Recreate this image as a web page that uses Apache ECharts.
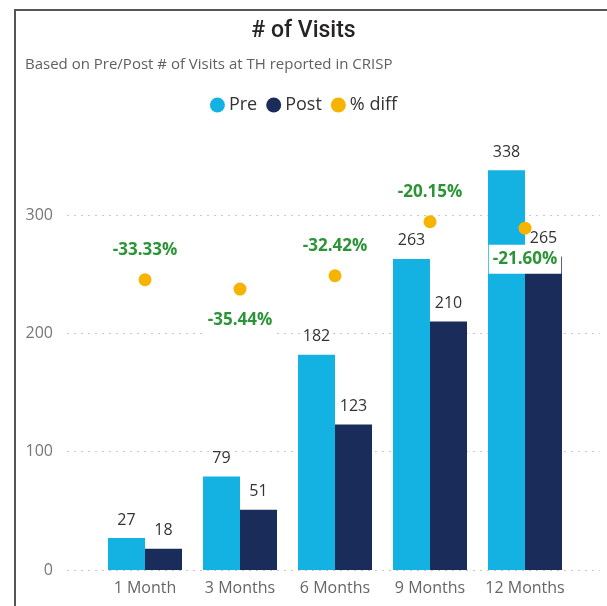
<!DOCTYPE html>
<html>
<head>
<meta charset="utf-8">
<title># of Visits</title>
<script src="https://cdn.jsdelivr.net/npm/echarts@6/dist/echarts.min.js"></script>
<style>
html, body { margin: 0; padding: 0; background: #fff; }
#main { width: 607px; height: 606px; }
</style>
</head>
<body>
<div id="main"></div>
<script>
// data
const categories = ['1 Month', '3 Months', '6 Months', '9 Months', '12 Months']
const preVisits = [27, 79, 182, 263, 338]
const postVisits = [18, 51, 123, 210, 265]
const pctDiff = [-33.33, -35.44, -32.42, -20.15, -21.60]
const valueTicks = [0, 100, 200, 300]

// which % labels sit under their dot
const labelBelow = [false, true, false, false, true]

const font = 'Open Sans, Noto Sans, sans-serif'
const preColor = '#14b2e2'
const postColor = '#1a2d5a'
const diffColor = '#f6b400'

const chart = echarts.init(document.getElementById('main'))

const option = {
    animation: false,
    backgroundColor: '#fff',
    textStyle: { fontFamily: font },
    title: [{
        text: '# of Visits',
        left: 'center',
        top: 15,
        textStyle: { fontSize: 23, fontWeight: 500, color: '#252423', fontFamily: 'Roboto, Open Sans, sans-serif' }
    }, {
        text: 'Based on Pre/Post # of Visits at TH reported in CRISP',
        left: 20,
        top: 52,
        textStyle: { fontSize: 15, fontWeight: 'normal', color: '#606060' }
    }],
    legend: {
        top: 91,
        left: 'center',
        icon: 'circle',
        itemWidth: 15,
        itemHeight: 15,
        itemGap: 9,
        textStyle: { fontSize: 18, color: '#333', padding: [0, 0, 0, -1] },
        data: ['Pre', 'Post', '% diff']
    },
    graphic: [{
        type: 'polyline',
        shape: { points: [[15, 606], [15, 10], [607, 10]] },
        style: { stroke: '#555', lineWidth: 2, fill: null }
    }],
    grid: [
        { left: 67, right: 7, top: 156, height: 414 },
        { left: 97.5, width: 475, top: 156, height: 414 }
    ],
    xAxis: [{
        gridIndex: 0,
        type: 'value',
        show: false
    }, {
        gridIndex: 1,
        type: 'category',
        data: categories,
        axisLine: { show: false },
        axisTick: { show: false },
        axisLabel: { interval: 0, fontSize: 16, color: '#666', margin: 10 }
    }],
    yAxis: [{
        gridIndex: 0,
        type: 'value',
        min: 0,
        max: 350,
        interval: 100,
        axisLine: { show: false },
        axisTick: { show: false },
        axisLabel: {
            fontSize: 16,
            color: '#777',
            margin: 14,
            showMaxLabel: false,
            formatter: v => valueTicks.includes(v) ? String(v) : ''
        },
        splitLine: {
            show: true,
            showMaxLine: false,
            lineStyle: { color: '#c8c8c8', type: [2, 5], width: 1 }
        }
    }, {
        gridIndex: 1,
        type: 'value',
        min: 0,
        max: 350,
        show: false
    }, {
        gridIndex: 1,
        type: 'value',
        min: -99.3,
        max: -5.2,
        show: false
    }],
    series: [{
        name: 'Pre',
        type: 'bar',
        xAxisIndex: 1,
        yAxisIndex: 1,
        data: preVisits,
        barWidth: 37,
        barGap: '0%',
        itemStyle: { color: preColor },
        label: { show: true, position: 'top', distance: 10, fontSize: 16, color: '#333' }
    }, {
        name: 'Post',
        type: 'bar',
        xAxisIndex: 1,
        yAxisIndex: 1,
        data: postVisits,
        barWidth: 37,
        barGap: '0%',
        itemStyle: { color: postColor },
        label: { show: true, position: 'top', distance: 10, fontSize: 16, color: '#333' }
    }, {
        name: '% diff',
        type: 'scatter',
        xAxisIndex: 1,
        yAxisIndex: 2,
        symbolSize: 13,
        z: 5,
        itemStyle: { color: diffColor, opacity: 1 },
        data: pctDiff.map((v, i) => ({
            value: v,
            label: { offset: [0, labelBelow[i] ? 31 : -30] }
        })),
        label: {
            show: true,
            position: 'inside',
            formatter: p => p.value.toFixed(2) + '%',
            fontSize: 17,
            fontWeight: 'bold',
            color: '#2a9436',
            backgroundColor: '#fff',
            padding: [6, 4]
        }
    }]
}

chart.setOption(option)
</script>
</body>
</html>
